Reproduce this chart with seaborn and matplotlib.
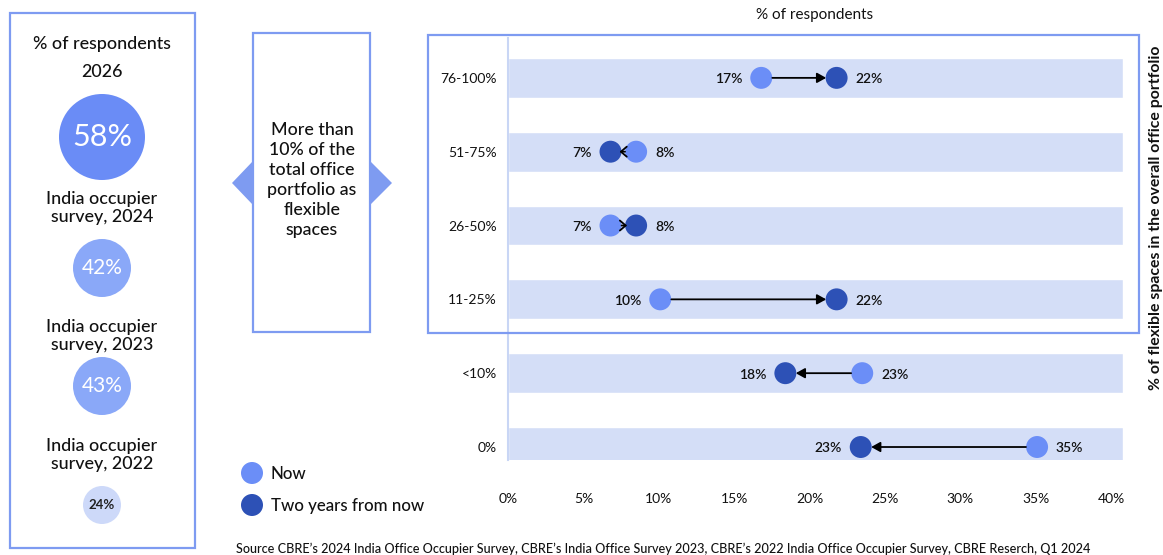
import matplotlib
matplotlib.use("Agg")
import matplotlib.pyplot as plt
import seaborn as sns
import pandas as pd
import numpy as np
from matplotlib.patches import Rectangle, Circle, Polygon

# ---------------- data ----------------
categories = ["76-100%", "51-75%", "26-50%", "11-25%", "<10%", "0%"]
now_vals = [16.8, 8.5, 6.8, 10.1, 23.5, 35.1]
later_vals = [21.8, 6.8, 8.5, 21.8, 18.4, 23.4]
now_labels = ["17%", "8%", "7%", "10%", "23%", "35%"]
later_labels = ["22%", "7%", "8%", "22%", "18%", "23%"]
xticks = [0, 5, 10, 15, 20, 25, 30, 35, 40]
xtick_labels = ["0%", "5%", "10%", "15%", "20%", "25%", "30%", "35%", "40%"]

side_titles = ["2026", "India occupier\nsurvey, 2024", "India occupier\nsurvey, 2023", "India occupier\nsurvey, 2022"]
side_values = [58, 42, 43, 24]
side_value_labels = ["58%", "42%", "43%", "24%"]

series_names = ["Now", "Two years from now"]

# ---------------- style ----------------
sns.set_theme(style="white")
plt.rcParams["font.family"] = ["Lato", "DejaVu Sans"]

LIGHT = "#6b8ef7"
DARK = "#2d51b6"
BAND = "#d4def7"
BOX = "#7e9bf1"
SPINE = "#c9d6f5"
INK = "#111111"

W, H = 1163, 555
fig = plt.figure(figsize=(W / 100, H / 100), dpi=100)

# main axes (pixel layout)
ax_l, ax_r, ax_t, ax_b = 508, 1123, 38, 460
ax = fig.add_axes([ax_l / W, (H - ax_b) / H, (ax_r - ax_l) / W, (ax_b - ax_t) / H])

n = len(categories)
ypos = [n - 1 - i for i in range(n)]
ax.barh(ypos, [40.8] * n, height=0.54, color=BAND, zorder=0)

df = pd.DataFrame({
    "category": categories * 2,
    "y": ypos * 2,
    "value": now_vals + later_vals,
    "series": [series_names[0]] * n + [series_names[1]] * n,
})
sns.scatterplot(data=df, x="value", y="y", hue="series",
                palette={series_names[0]: LIGHT, series_names[1]: DARK},
                s=250, linewidth=0, legend=False, ax=ax, zorder=3)

for i in range(n):
    y = ypos[i]
    a, b = now_vals[i], later_vals[i]
    short = abs(a - b) < 3
    style = ("-|>,head_length=0.45,head_width=0.25" if not short
             else "->,head_length=0.35,head_width=0.3")
    ax.annotate("", xy=(b, y), xytext=(a, y),
                arrowprops=dict(arrowstyle=style, color="black", lw=1.3,
                                shrinkA=8, shrinkB=7.5 if not short else 6.5),
                zorder=4)
    # low value label left, high value label right
    if a <= b:
        lo_v, lo_t, hi_v, hi_t = a, now_labels[i], b, later_labels[i]
    else:
        lo_v, lo_t, hi_v, hi_t = b, later_labels[i], a, now_labels[i]
    ax.annotate(lo_t, xy=(lo_v, y), xytext=(-13.5, -1), textcoords="offset points",
                ha="right", va="center", fontsize=10, fontweight="semibold", color=INK)
    ax.annotate(hi_t, xy=(hi_v, y), xytext=(13.5, -1), textcoords="offset points",
                ha="left", va="center", fontsize=10, fontweight="semibold", color=INK)

ax.set_xlim(0, 40.8)
ax.set_ylim(-0.176, 5.54)
ax.set_xticks(xticks)
ax.set_xticklabels(xtick_labels)
ax.set_yticks(ypos)
ax.set_yticklabels(categories)
ax.tick_params(axis="x", length=0, pad=24, labelsize=10, labelcolor=INK)
ax.tick_params(axis="y", length=0, pad=8, labelsize=10, labelcolor=INK)
ax.set_xlabel("")
ax.set_ylabel("")
for s in ["top", "right", "bottom"]:
    ax.spines[s].set_visible(False)
ax.spines["left"].set_color(SPINE)
ax.spines["left"].set_linewidth(1.5)
ax.set_facecolor("none")

# overlay in pixel coordinates for decorations
ov = fig.add_axes([0, 0, 1, 1], zorder=5)
ov.set_xlim(0, W)
ov.set_ylim(H, 0)
ov.axis("off")
ov.patch.set_alpha(0)

# top title and right label
ov.text(815, 15, "% of respondents", ha="center", va="center", fontsize=11, color=INK)
ov.text(1156, 218, "% of flexible spaces in the overall office portfolio", rotation=90,
        ha="center", va="center", fontsize=11.4, fontweight="bold", color=INK)

# box around upper rows
ov.add_patch(Rectangle((428, 35), 1139 - 428, 333 - 35, fill=False, edgecolor=BOX, lw=1.6))

# middle box with pointers
ov.add_patch(Polygon([[253, 161], [253, 205], [232, 183]], closed=True, color=BOX, lw=0))
ov.add_patch(Polygon([[370, 161], [370, 205], [392, 183]], closed=True, color=BOX, lw=0))
ov.add_patch(Rectangle((253, 33), 370 - 253, 332 - 33, facecolor="white", edgecolor=BOX, lw=1.6))
ov.text(312, 180, "More than\n10% of the\ntotal office\nportfolio as\nflexible\nspaces",
        ha="center", va="center", fontsize=12.8, fontweight="medium", linespacing=1.32, color=INK)

# left panel
ov.add_patch(Rectangle((10, 13), 195 - 10, 548 - 13, fill=False, edgecolor=BOX, lw=1.6))
ov.text(102, 44, "% of respondents", ha="center", va="center", fontsize=12.9,
        fontweight="medium", color=INK)
title_y = [72, 208, 336, 455]
circ_y = [137, 268, 386, 505]
circ_r = [43, 29, 29, 19]
circ_colors = ["#6a8cf6", "#8aa8f8", "#8aa8f8", "#cdd9f9"]
text_colors = ["white", "white", "white", "#222222"]
font_sizes = [22, 15, 15, 9.5]
weights = ["normal", "normal", "normal", "bold"]
for t, lab, ty, cy, r, cc, tc, fs, fw in zip(side_titles, side_value_labels, title_y, circ_y,
                                             circ_r, circ_colors, text_colors, font_sizes, weights):
    ov.text(102, ty, t, ha="center", va="center", fontsize=12.9, fontweight="medium",
            linespacing=1.15, color=INK)
    ov.add_patch(Circle((102, cy), r, color=cc, lw=0))
    ov.text(102, cy, lab, ha="center", va="center", fontsize=fs, fontweight=fw, color=tc)

# legend
ov.add_patch(Circle((252, 473), 11, color=LIGHT, lw=0))
ov.add_patch(Circle((252, 505), 11, color=DARK, lw=0))
ov.text(271, 474, series_names[0], ha="left", va="center", fontsize=12.2,
        fontweight="medium", color=INK)
ov.text(271, 506, series_names[1], ha="left", va="center", fontsize=12.2,
        fontweight="medium", color=INK)

# source
ov.text(236, 549, "Source CBRE\u2019s 2024 India Office Occupier Survey, CBRE\u2019s India Office Survey 2023, "
        "CBRE\u2019s 2022 India Office Occupier Survey, CBRE Reserch, Q1 2024",
        ha="left", va="center", fontsize=9.05, fontweight="medium", color=INK)

fig.savefig("out.png", dpi=100)
